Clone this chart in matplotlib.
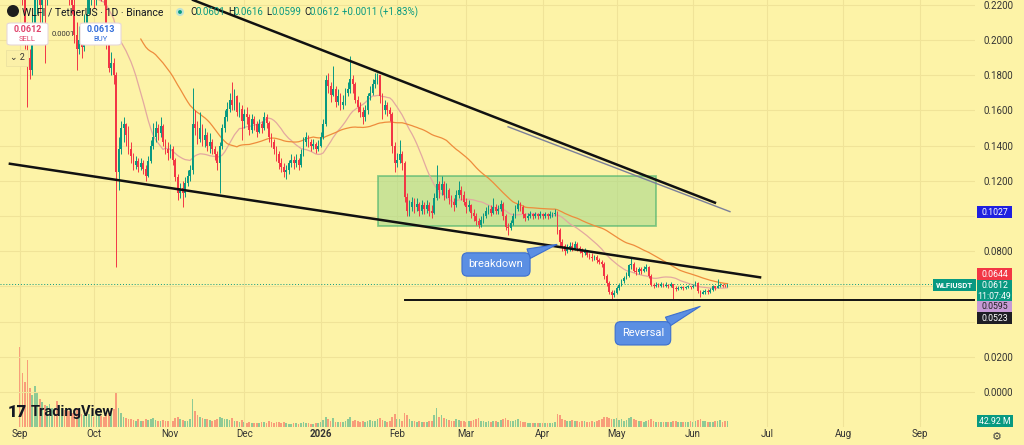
import numpy as np
import pandas as pd
import matplotlib
matplotlib.use("Agg")
import matplotlib.pyplot as plt
from matplotlib.patches import Rectangle, Circle, FancyBboxPatch
from matplotlib.transforms import IdentityTransform

plt.rcParams['font.family'] = ['Roboto', 'DejaVu Sans']

# ---- daily candles, WLFI/USDT, 1 Sep 2025 onwards (prices in 1e-4 USDT) ----
open0 = 2700
close = [
    2450, 2300, 2050, 1900, 1830, 2050, 2250, 2300, 2200, 2300,
    2250, 2350, 2400, 2450, 2350, 2300, 2350, 2400, 2380, 2300,
    2250, 2200, 2030, 1950, 2000, 1960, 2050, 2150, 2250, 2300,
    2250, 2300, 2350, 2300, 2250, 1990, 1840, 1870, 1800, 1250,
    1380, 1500, 1520, 1460, 1380, 1340, 1290, 1310, 1280, 1300,
    1270, 1230, 1310, 1400, 1450, 1500, 1470, 1510, 1420, 1380,
    1360, 1380, 1320, 1220, 1130, 1160, 1130, 1190, 1230, 1260,
    1520, 1500, 1440, 1500, 1430, 1460, 1400, 1420, 1380, 1350,
    1300, 1400, 1500, 1560, 1610, 1660, 1630, 1680, 1590, 1610,
    1540, 1580, 1560, 1490, 1550, 1520, 1480, 1520, 1500, 1560,
    1530, 1450, 1420, 1380, 1350, 1300, 1280, 1250, 1260, 1300,
    1320, 1300, 1320, 1290, 1350, 1420, 1450, 1420, 1400, 1410,
    1380, 1400, 1450, 1520, 1770, 1740, 1690, 1720, 1650, 1680,
    1630, 1650, 1700, 1720, 1780, 1750, 1660, 1620, 1590, 1560,
    1600, 1680, 1700, 1750, 1770, 1800, 1680, 1600, 1630, 1600,
    1580, 1400, 1300, 1320, 1350, 1300, 1110, 1030, 1050, 1080,
    1050, 1070, 1030, 1060, 1040, 1060, 1030, 1020, 1100, 1180,
    1150, 1180, 1120, 1150, 1100, 1080, 1060, 1120, 1150, 1120,
    1080, 1050, 1060, 1020, 1000, 970, 950, 980, 1000, 1030,
    1040, 1020, 1050, 1030, 1040, 1070, 1000, 940, 930, 960,
    1000, 1040, 1070, 1050, 1010, 990, 1000, 1010, 1000, 1010,
    1000, 1010, 1000, 1010, 1000, 1010, 1010, 1020, 920, 850,
    830, 800, 820, 830, 820, 840, 820, 810, 790, 800,
    780, 770, 760, 770, 750, 740, 730, 660, 620, 570,
    550, 565, 590, 610, 630, 650, 660, 720, 730, 690,
    680, 700, 690, 700, 710, 660, 610, 600, 610, 605,
    612, 605, 610, 600, 612, 590, 585, 590, 595, 590,
    595, 600, 595, 605, 620, 575, 560, 570, 575, 570,
    580, 600, 590, 605, 610, 605, 601, 612,
]
high = [
    3000, 2550, 2350, 2100, 1950, 2150, 2350, 2400, 2350, 2380,
    2400, 2450, 2500, 2550, 2500, 2450, 2450, 2480, 2500, 2420,
    2350, 2300, 2230, 2100, 2080, 2050, 2150, 2250, 2350, 2400,
    2350, 2400, 2450, 2400, 2350, 2250, 2000, 1930, 1900, 1820,
    1450, 1540, 1560, 1530, 1510, 1420, 1360, 1340, 1330, 1330,
    1320, 1290, 1340, 1430, 1530, 1540, 1520, 1560, 1520, 1440,
    1420, 1410, 1400, 1330, 1240, 1190, 1200, 1220, 1260, 1290,
    1730, 1600, 1540, 1590, 1520, 1500, 1480, 1470, 1440, 1400,
    1370, 1420, 1520, 1600, 1650, 1700, 1760, 1720, 1690, 1650,
    1630, 1610, 1620, 1580, 1580, 1570, 1540, 1550, 1540, 1590,
    1580, 1540, 1470, 1440, 1400, 1370, 1330, 1300, 1290, 1320,
    1350, 1340, 1350, 1330, 1380, 1450, 1480, 1460, 1440, 1440,
    1420, 1430, 1480, 1550, 1800, 1810, 1760, 1850, 1740, 1720,
    1700, 1690, 1730, 1760, 1910, 1800, 1760, 1680, 1650, 1620,
    1630, 1700, 1740, 1780, 1810, 1810, 1800, 1700, 1660, 1650,
    1620, 1590, 1420, 1360, 1430, 1370, 1310, 1130, 1090, 1110,
    1100, 1100, 1080, 1090, 1080, 1090, 1080, 1060, 1130, 1290,
    1200, 1230, 1200, 1190, 1160, 1120, 1100, 1150, 1200, 1170,
    1140, 1100, 1090, 1070, 1040, 1020, 990, 1000, 1020, 1050,
    1060, 1060, 1100, 1070, 1060, 1090, 1080, 1010, 960, 980,
    1020, 1060, 1090, 1080, 1060, 1020, 1020, 1030, 1020, 1025,
    1020, 1030, 1020, 1025, 1020, 1030, 1025, 1040, 1030, 930,
    870, 840, 840, 850, 850, 860, 850, 830, 820, 820,
    810, 790, 790, 780, 780, 760, 750, 740, 670, 630,
    580, 580, 600, 620, 640, 660, 680, 730, 760, 740,
    710, 710, 710, 715, 725, 715, 670, 620, 625, 620,
    625, 620, 625, 615, 625, 615, 600, 600, 605, 600,
    605, 610, 605, 615, 630, 625, 580, 580, 585, 585,
    590, 610, 605, 640, 620, 615, 615, 616,
]
low = [
    2350, 2200, 1950, 1620, 1780, 1800, 2000, 2150, 1980, 2050,
    1870, 2200, 2300, 2350, 2250, 2250, 2260, 2300, 2280, 2250,
    2200, 2150, 1980, 1830, 1920, 1900, 1940, 2050, 2150, 2200,
    2180, 2200, 2250, 2220, 2200, 1950, 1820, 1800, 1750, 710,
    1150, 1350, 1420, 1400, 1350, 1300, 1260, 1270, 1250, 1260,
    1240, 1200, 1220, 1300, 1380, 1420, 1430, 1450, 1400, 1350,
    1320, 1330, 1290, 1200, 1090, 1100, 1050, 1110, 1170, 1200,
    1240, 1460, 1410, 1420, 1400, 1390, 1370, 1360, 1350, 1320,
    1260, 1130, 1380, 1480, 1540, 1590, 1600, 1600, 1570, 1560,
    1430, 1500, 1520, 1460, 1470, 1490, 1450, 1470, 1470, 1490,
    1500, 1420, 1390, 1350, 1310, 1270, 1250, 1220, 1210, 1240,
    1280, 1270, 1280, 1260, 1280, 1340, 1400, 1390, 1370, 1380,
    1360, 1370, 1390, 1440, 1510, 1700, 1650, 1680, 1620, 1630,
    1600, 1610, 1630, 1680, 1700, 1700, 1640, 1590, 1560, 1520,
    1540, 1580, 1660, 1690, 1730, 1750, 1640, 1550, 1580, 1570,
    1540, 1360, 1250, 1280, 1300, 1260, 1080, 1000, 1000, 1030,
    1020, 1030, 1000, 1010, 1010, 1020, 1000, 990, 1010, 1090,
    1100, 1120, 1090, 1100, 1070, 1050, 1030, 1050, 1100, 1090,
    1060, 1020, 1030, 990, 970, 950, 930, 940, 960, 990,
    1010, 1000, 1010, 1010, 1010, 1030, 980, 920, 890, 920,
    950, 990, 1030, 1030, 990, 970, 980, 990, 985, 990,
    985, 990, 985, 990, 985, 990, 995, 1000, 900, 830,
    800, 780, 790, 800, 800, 810, 800, 790, 770, 780,
    765, 755, 745, 750, 735, 725, 710, 640, 600, 555,
    527, 540, 560, 580, 600, 620, 640, 655, 700, 680,
    665, 670, 670, 680, 690, 650, 600, 590, 595, 595,
    598, 595, 598, 590, 598, 527, 575, 580, 585, 580,
    585, 590, 585, 590, 600, 565, 540, 555, 560, 560,
    565, 575, 580, 590, 595, 595, 595, 599,
]
# volume in millions
volume = [
    620, 420, 350, 520, 300, 250, 320, 260, 220, 190,
    170, 160, 180, 150, 140, 200, 170, 150, 130, 140,
    120, 110, 130, 150, 110, 100, 90, 85, 100, 90,
    80, 95, 100, 85, 80, 90, 110, 120, 140, 270,
    150, 110, 80, 70, 65, 60, 55, 50, 60, 45,
    50, 65, 55, 60, 70, 55, 50, 45, 55, 50,
    45, 50, 45, 70, 80, 60, 55, 50, 45, 60,
    220, 120, 90, 80, 70, 60, 65, 55, 50, 55,
    60, 80, 70, 60, 65, 55, 70, 50, 45, 40,
    55, 35, 30, 40, 30, 28, 32, 30, 35, 40,
    30, 45, 35, 30, 38, 35, 28, 40, 30, 25,
    25, 30, 28, 25, 30, 35, 30, 28, 25, 25,
    30, 28, 40, 55, 80, 60, 45, 70, 40, 35,
    40, 35, 50, 60, 75, 50, 55, 45, 40, 50,
    40, 45, 55, 45, 50, 60, 70, 55, 45, 40,
    50, 80, 100, 60, 65, 50, 110, 90, 60, 45,
    50, 40, 45, 40, 35, 40, 45, 50, 90, 150,
    80, 95, 70, 60, 55, 50, 45, 60, 55, 50,
    45, 40, 45, 50, 55, 60, 70, 50, 45, 40,
    45, 40, 50, 45, 40, 55, 60, 70, 55, 45,
    50, 55, 60, 45, 40, 35, 30, 32, 30, 28,
    30, 32, 28, 30, 32, 30, 28, 35, 100, 90,
    60, 55, 50, 45, 55, 50, 45, 40, 50, 45,
    40, 38, 45, 40, 50, 55, 60, 75, 80, 70,
    65, 60, 70, 55, 65, 50, 55, 70, 75, 60,
    55, 50, 45, 40, 45, 55, 60, 50, 40, 35,
    40, 35, 38, 40, 35, 45, 50, 40, 35, 38,
    35, 40, 45, 40, 50, 55, 60, 50, 45, 40,
    35, 40, 50, 45, 55, 40, 45, 42.92,
]

month_pos = [0, 30, 61, 91, 122, 153, 181, 212, 242, 273, 303, 334, 365]
month_lbl = ['Sep', 'Oct', 'Nov', 'Dec', '2026', 'Feb', 'Mar', 'Apr',
             'May', 'Jun', 'Jul', 'Aug', 'Sep']
# 0.04 / 0.06 / 0.10 sit under the price tags on the scale
price_ticks = [0.00, 0.02, 0.08, 0.12, 0.14, 0.16, 0.18, 0.20, 0.22]

# drawings (day index, price)
upper_line = ([70.2, 281.9], [0.2227, 0.1076])
upper_thin = ([198.0, 288.0], [0.1507, 0.1025])
lower_line = ([-4.1, 300.2], [0.1297, 0.0652])
support_lvl = 0.0523
zone = (145.2, 258.0, 0.0946, 0.1229)

# ---- prep ----
c = np.array(close) / 1e4
h = np.array(high) / 1e4
l = np.array(low) / 1e4
o = np.r_[open0, close[:-1]] / 1e4
h = np.maximum(h, np.maximum(o, c))
l = np.minimum(l, np.minimum(o, c))
days = np.arange(len(c))
up = c >= o
ma20 = pd.Series(c).rolling(20).mean()
ma50 = pd.Series(c).rolling(50).mean()

BG = '#fdf3a7'
GRID = '#f0e398'
GREEN = '#089981'
RED = '#f23645'
W, H = 1024, 445


def px(x, y):
    return x / W, 1 - y / H


fig = plt.figure(figsize=(W / 100, H / 100), dpi=100, facecolor=BG)
rect = [0, 18 / H, 975 / W, 427 / H]
axv = fig.add_axes(rect, facecolor=BG)
ax = fig.add_axes(rect, sharex=axv)
ax.patch.set_alpha(0)

# volume
vcol = np.where(up, GREEN, RED)
axv.bar(days, volume, width=0.7, color=vcol, alpha=0.45, linewidth=0)
axv.set_ylim(0, 3300)
axv.set_yticks([])
axv.tick_params(axis='x', length=0, labelbottom=False)
for s in axv.spines.values():
    s.set_visible(False)

# grid (horizontal lines every 0.02 incl. the ones under the tags)
ax.set_axisbelow(True)
ax.grid(True, axis='x', color=GRID, lw=0.8)
for v in np.arange(0, 0.221, 0.02):
    ax.axhline(v, color=GRID, lw=0.8, zorder=0)

# candles
ccol = np.where(up, GREEN, RED)
ax.vlines(days, l, h, colors=ccol, lw=0.7, zorder=3)
body = np.maximum(np.abs(c - o), 0.0003)
ax.bar(days, body, bottom=np.minimum(o, c), width=0.7, color=ccol,
       linewidth=0, zorder=3)

# moving averages
ax.plot(days, ma20, color='#e3a8a0', lw=0.9, zorder=2)
ax.plot(days, ma50, color='#ee8c3c', lw=0.9, zorder=2)

# drawings
ax.add_patch(Rectangle((zone[0], zone[2]), zone[1] - zone[0], zone[3] - zone[2],
                       facecolor='#a9d98c', alpha=0.6, edgecolor='#3fae6a',
                       lw=1.3, zorder=1))
ax.plot(*upper_line, color='#111111', lw=1.8, zorder=4)
ax.plot(*upper_thin, color='#7b7f9a', lw=1.0, zorder=4)
ax.plot(*lower_line, color='#111111', lw=1.8, zorder=4)
ax.plot([156.2, 400], [support_lvl, support_lvl], color='#111111', lw=1.4, zorder=4)
ax.axhline(c[-1], color=GREEN, lw=0.7, ls=(0, (1, 2)), zorder=2)

bubble = dict(boxstyle='round,pad=0.6,rounding_size=0.5', fc='#5b8fe3',
              ec='#3c6fcf', lw=0.8)
for txt, tip, box in [('breakdown', (217.8, 0.0839), (193.1, 0.0725)),
                      ('Reversal', (275.9, 0.0487), (252.7, 0.0334))]:
    ax.annotate(txt, xy=tip, xytext=box, ha='center', va='center',
                color='white', fontsize=8, bbox=bubble, zorder=6,
                arrowprops=dict(arrowstyle='wedge,tail_width=0.9',
                                fc='#5b8fe3', ec='#3c6fcf', lw=0.8,
                                shrinkA=0, shrinkB=0))

# axes
ax.set_xlim(-8.11, 387.4)
ax.set_ylim(-0.0198, 0.2227)
ax.yaxis.tick_right()
ax.set_yticks(price_ticks, [f'{v:.4f}' for v in price_ticks])
ax.set_xticks(month_pos, month_lbl)
ax.tick_params(axis='y', length=0, pad=6, labelsize=7, labelcolor='#333333')
ax.tick_params(axis='x', length=0, pad=1.5, labelsize=7, labelcolor='#333333')
for t in ax.get_xticklabels():
    if t.get_text() == '2026':
        t.set_fontweight('bold')
for s in ax.spines.values():
    s.set_visible(False)


# price scale tags: fixed-size boxes, pixel coords (x0, y_top, x1, y_bottom)
def tag(x0, y0, x1, y1, lines, fc, tc='white', fs=6.3, weight='normal'):
    fig.patches.append(Rectangle(px(x0, y1), (x1 - x0) / W, (y1 - y0) / H,
                                 transform=fig.transFigure, fc=fc, ec='none'))
    step = (y1 - y0) / len(lines)
    for i, s in enumerate(lines):
        fig.text(*px((x0 + x1) / 2, y0 + step * (i + 0.5) + 0.3), s,
                 ha='center', va='center', fontsize=fs, color=tc,
                 fontweight=weight)


tag(977, 206, 1012, 218, ['0.1027'], '#1f1fe0')
tag(977, 268, 1012, 280, ['0.0644'], RED)
tag(977, 280, 1012, 301, ['0.0612', '11:07:49'], GREEN)
tag(933, 279, 976, 291, ['WLFIUSDT'], GREEN, fs=5.6, weight='bold')
tag(977, 301, 1012, 312, ['0.0595'], '#c79ad6', tc='#222222')
tag(977, 312, 1012, 324, ['0.0523'], '#1e1e24')
tag(977, 415, 1013, 427, ['42.92 M'], GREEN)

# header
fig.patches.append(Circle((13, H - 11), 6, transform=IdentityTransform(),
                          fc='#1e1e1e', ec='none'))
fig.text(*px(22, 12), 'WLFI / TetherUS · 1D · Binance', fontsize=7.5,
         color='#131722', va='center')
fig.patches.append(Circle((180, H - 12), 3, transform=IdentityTransform(),
                          fc=GREEN, ec='#bfe3d4', lw=1.5))
x0 = 190
for lab, val in [('O', '0.0601'), ('H', '0.0616'), ('L', '0.0599'),
                 ('C', '0.0612')]:
    fig.text(*px(x0, 12), lab, fontsize=7, color='#131722', va='center')
    fig.text(*px(x0 + 6, 12), val, fontsize=7, color=GREEN, va='center')
    x0 += 38
fig.text(*px(x0, 12), '+0.0011 (+1.83%)', fontsize=7, color=GREEN, va='center')

for bx, price, word, col in [(7, '0.0612', 'SELL', '#e0436b'),
                             (80, '0.0613', 'BUY', '#2f6bd9')]:
    fig.patches.append(FancyBboxPatch(px(bx, 45), 41 / W, 22 / H,
                                      boxstyle='round,pad=0,rounding_size=0.004',
                                      transform=fig.transFigure, fc='white',
                                      ec='#e6d8d8', lw=0.8))
    fig.text(*px(bx + 20.5, 29), price, fontsize=6.5, color=col, ha='center',
             va='center', fontweight='bold')
    fig.text(*px(bx + 20.5, 39), word, fontsize=5.5, color=col, ha='center',
             va='center')
fig.text(*px(63, 34), '0.0001', fontsize=5.5, color='#333333', ha='center',
         va='center')
fig.text(*px(17, 58), '⌄ 2', fontsize=6.5, color='#333333', ha='center',
         va='center', bbox=dict(boxstyle='square,pad=0.35', fc='#fbf0a8',
                                ec='#ece2a0', lw=0.6))

# watermark + settings icon
fig.text(*px(8, 412), '17', fontsize=12, fontweight='heavy', color='#131722',
         va='center')
fig.text(*px(31, 412), 'TradingView', fontsize=10.5, fontweight='bold',
         color='#131722', va='center')
fig.text(*px(997, 437), '⚙', fontsize=8, color='#444444', ha='center',
         va='center', family='DejaVu Sans')

fig.savefig('out.png', dpi=100, facecolor=BG)
